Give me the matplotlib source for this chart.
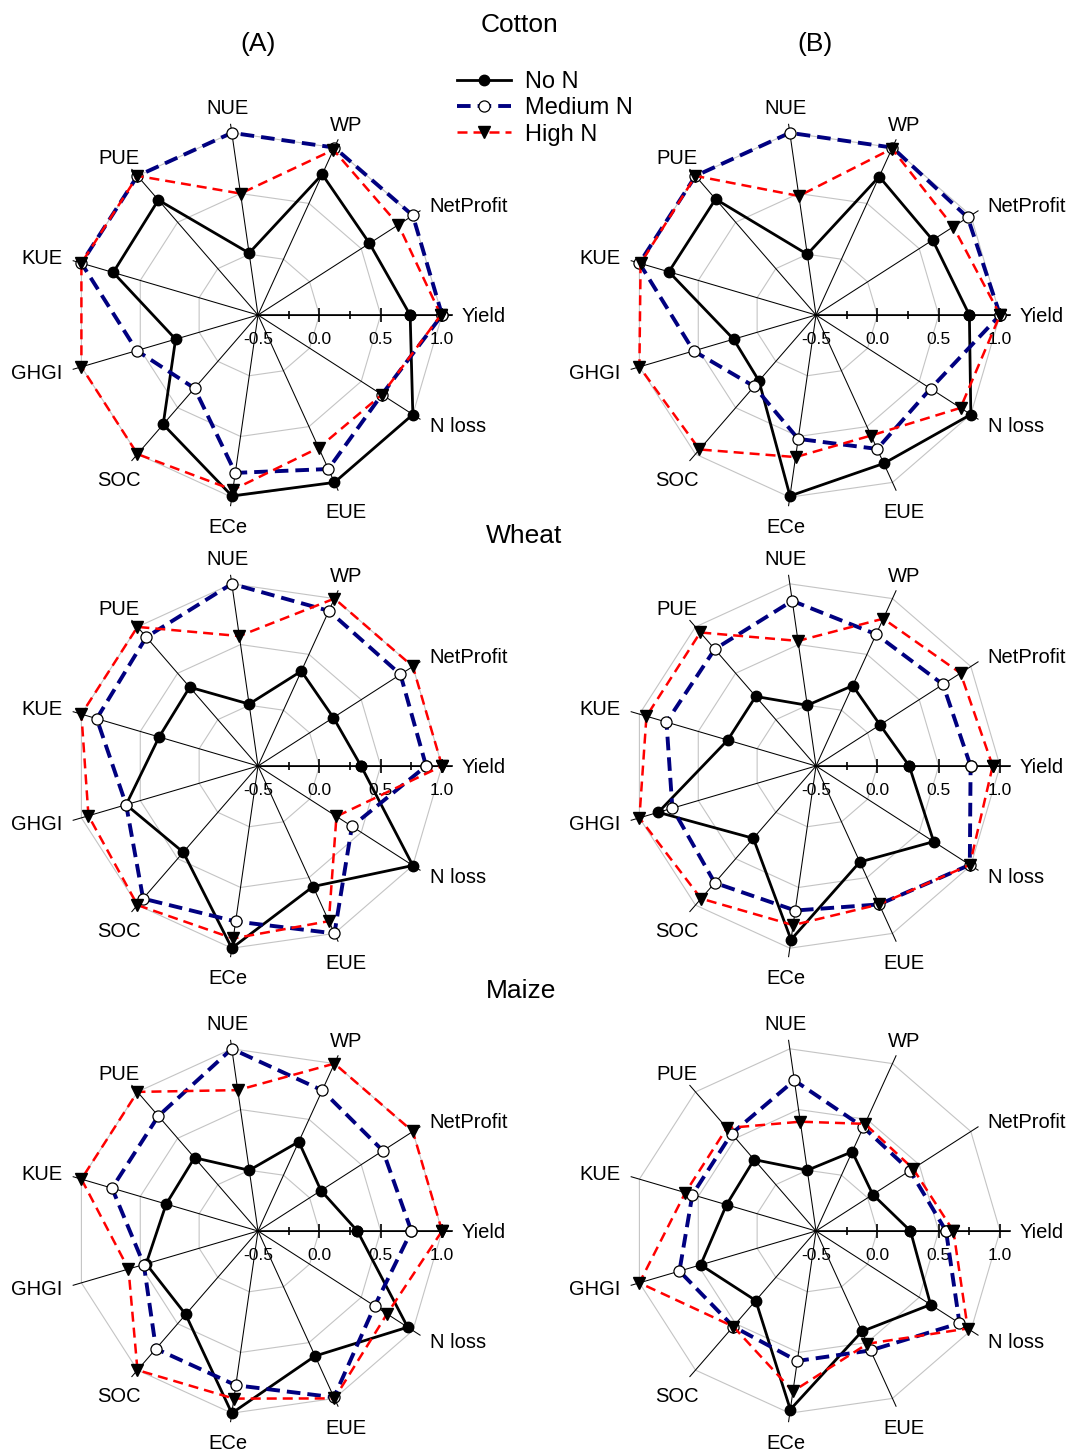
import numpy as np
import matplotlib
matplotlib.use('Agg')
import matplotlib.pyplot as plt
from matplotlib.lines import Line2D

plt.rcParams['font.family'] = ['Liberation Sans', 'DejaVu Sans']

# indicator order goes counter-clockwise starting at 3 o'clock
indicators = ['Yield', 'NetProfit', 'WP', 'NUE', 'PUE', 'KUE', 'GHGI', 'SOC', 'ECe', 'EUE', 'N loss']
crops = ['Cotton', 'Wheat', 'Maize']
columns = ['(A)', '(B)']
series_names = ['No N', 'Medium N', 'High N']

cotton_a_no = [0.74, 0.58, 0.76, 0.01, 0.74, 0.73, 0.20, 0.68, 0.99, 1.00, 1.00]
cotton_a_med = [1.00, 1.00, 1.00, 1.00, 1.00, 1.00, 0.53, 0.29, 0.80, 0.88, 0.70]
cotton_a_high = [0.99, 0.86, 0.98, 0.50, 1.00, 1.00, 1.00, 1.00, 0.94, 0.69, 0.70]

cotton_b_no = [0.75, 0.63, 0.74, 0.00, 0.75, 0.75, 0.20, 0.21, 0.99, 0.83, 1.00]
cotton_b_med = [1.00, 0.97, 1.00, 1.00, 1.00, 1.00, 0.54, 0.27, 0.52, 0.70, 0.61]
cotton_b_high = [1.00, 0.83, 0.99, 0.48, 1.00, 0.99, 1.00, 0.95, 0.67, 0.58, 0.90]

wheat_a_no = [0.34, 0.23, 0.35, 0.01, 0.35, 0.34, 0.62, 0.43, 1.00, 0.58, 1.00]
wheat_a_med = [0.87, 0.88, 0.89, 1.00, 0.89, 0.87, 0.62, 0.93, 0.78, 1.00, 0.41]
wheat_a_high = [1.00, 1.00, 1.00, 0.57, 1.00, 1.00, 0.94, 1.00, 0.92, 0.89, 0.26]

wheat_b_no = [0.26, 0.12, 0.22, 0.00, 0.25, 0.25, 0.84, 0.28, 0.93, 0.36, 0.64]
wheat_b_med = [0.76, 0.73, 0.68, 0.86, 0.76, 0.77, 0.72, 0.76, 0.69, 0.74, 0.99]
wheat_b_high = [0.94, 0.90, 0.82, 0.53, 0.94, 0.94, 1.00, 0.93, 0.81, 0.74, 0.99]

maize_a_no = [0.31, 0.11, 0.30, 0.00, 0.29, 0.28, 0.45, 0.40, 1.00, 0.62, 0.95]
maize_a_med = [0.75, 0.71, 0.76, 1.00, 0.74, 0.74, 0.47, 0.77, 0.77, 0.99, 0.63]
maize_a_high = [1.00, 1.00, 1.00, 0.66, 1.00, 1.00, 0.60, 1.00, 0.88, 1.00, 0.75]

maize_b_no = [0.27, 0.05, 0.21, 0.00, 0.27, 0.26, 0.48, 0.25, 0.97, 0.40, 0.61]
maize_b_med = [0.56, 0.41, 0.43, 0.74, 0.55, 0.55, 0.66, 0.53, 0.57, 0.57, 0.89]
maize_b_high = [0.62, 0.44, 0.46, 0.40, 0.61, 0.61, 1.00, 0.53, 0.82, 0.51, 0.97]

panels = [
    [(cotton_a_no, cotton_a_med, cotton_a_high), (cotton_b_no, cotton_b_med, cotton_b_high)],
    [(wheat_a_no, wheat_a_med, wheat_a_high), (wheat_b_no, wheat_b_med, wheat_b_high)],
    [(maize_a_no, maize_a_med, maize_a_high), (maize_b_no, maize_b_med, maize_b_high)],
]

grid_levels = [0.0, 0.5, 1.0]
major_ticks = [-0.5, 0.0, 0.5, 1.0]
minor_ticks = [-0.25, 0.25, 0.75]

styles = [
    dict(color='black', lw=2.0, marker='o', ms=7.5, mfc='black', mec='black'),
    dict(color='#000080', lw=2.8, dashes=(3.5, 1.8), marker='o', ms=8, mfc='white', mec='black', mew=0.9),
    dict(color='#ff0000', lw=1.8, dashes=(4, 2.4), marker='v', ms=8, mfc='black', mec='black'),
]

W, H = 1069, 1455
fig = plt.figure(figsize=(W / 100, H / 100), dpi=100)

r_min, r_max = -0.5, 1.1
px_per_unit = 122.7
half = (r_max - r_min) * px_per_unit
centers_x = [258, 816]
centers_y = [315, 766, 1231]

n = len(indicators)
theta = np.linspace(0, 2 * np.pi, n, endpoint=False)
closed = np.append(theta, theta[0])


def radar(ax, data):
    ax.set_ylim(r_min, r_max)
    ax.axis('off')
    for lvl in grid_levels:
        ax.plot(closed, [lvl] * (n + 1), color='#c4c4c4', lw=0.8, zorder=1)
    for t in theta:
        ax.plot([t, t], [r_min, 1.07], color='black', lw=0.75, zorder=2)
    # scale on the Yield spoke
    ax.plot([0, 0], [r_min, 1.08], color='black', lw=1.2, zorder=2)
    ax.plot([0] * len(major_ticks[1:]), major_ticks[1:], ls='none', marker='|', ms=10, mew=1.2, color='black', zorder=2)
    ax.plot([0] * len(minor_ticks), minor_ticks, ls='none', marker='|', ms=6, mew=1.2, color='black', zorder=2)
    for v in major_ticks:
        ax.annotate('%.1f' % v, xy=(0, v), xytext=(0, -12), textcoords='offset points',
                    ha='center', va='top', fontsize=12.5, annotation_clip=False)
    for t, name in zip(theta, indicators):
        c, s = np.cos(t), np.sin(t)
        if c > 0.8:
            r, ha, dy = 1.163, 'left', -1
        elif c < -0.8:
            r, ha, dy = 1.163, 'right', -1
        else:
            r, ha, dy = 1.235, 'center', -3
            if s < -0.95:
                dy = -1
        ax.annotate(name, xy=(t, r), xytext=(0, dy), textcoords='offset points',
                    ha=ha, va='center', fontsize=14.5, annotation_clip=False)
    for vals, st in zip(data, styles):
        ax.plot(closed, list(vals) + [vals[0]], zorder=3, clip_on=False, **st)


for i, row in enumerate(panels):
    for j, data in enumerate(row):
        cx, cy = centers_x[j], centers_y[i]
        ax = fig.add_axes([(cx - half) / W, 1 - (cy + half) / H, 2 * half / W, 2 * half / H], projection='polar')
        radar(ax, data)

title_pos = [(519, 25), (524, 536), (521, 991)]
for name, (x, y) in zip(crops, title_pos):
    fig.text(x / W, 1 - y / H, name, ha='center', va='center', fontsize=19)
for name, x in zip(columns, [258, 815]):
    fig.text(x / W, 1 - 44 / H, name, ha='center', va='center', fontsize=19)

handles = [Line2D([], [], **st) for st in styles]
fig.legend(handles, series_names, loc='upper left', bbox_to_anchor=(457 / W, 1 - 71 / H),
           frameon=False, fontsize=17, handlelength=2.3, handletextpad=0.6,
           labelspacing=0.18, borderpad=0, borderaxespad=0)

fig.savefig('out.png', dpi=100)
